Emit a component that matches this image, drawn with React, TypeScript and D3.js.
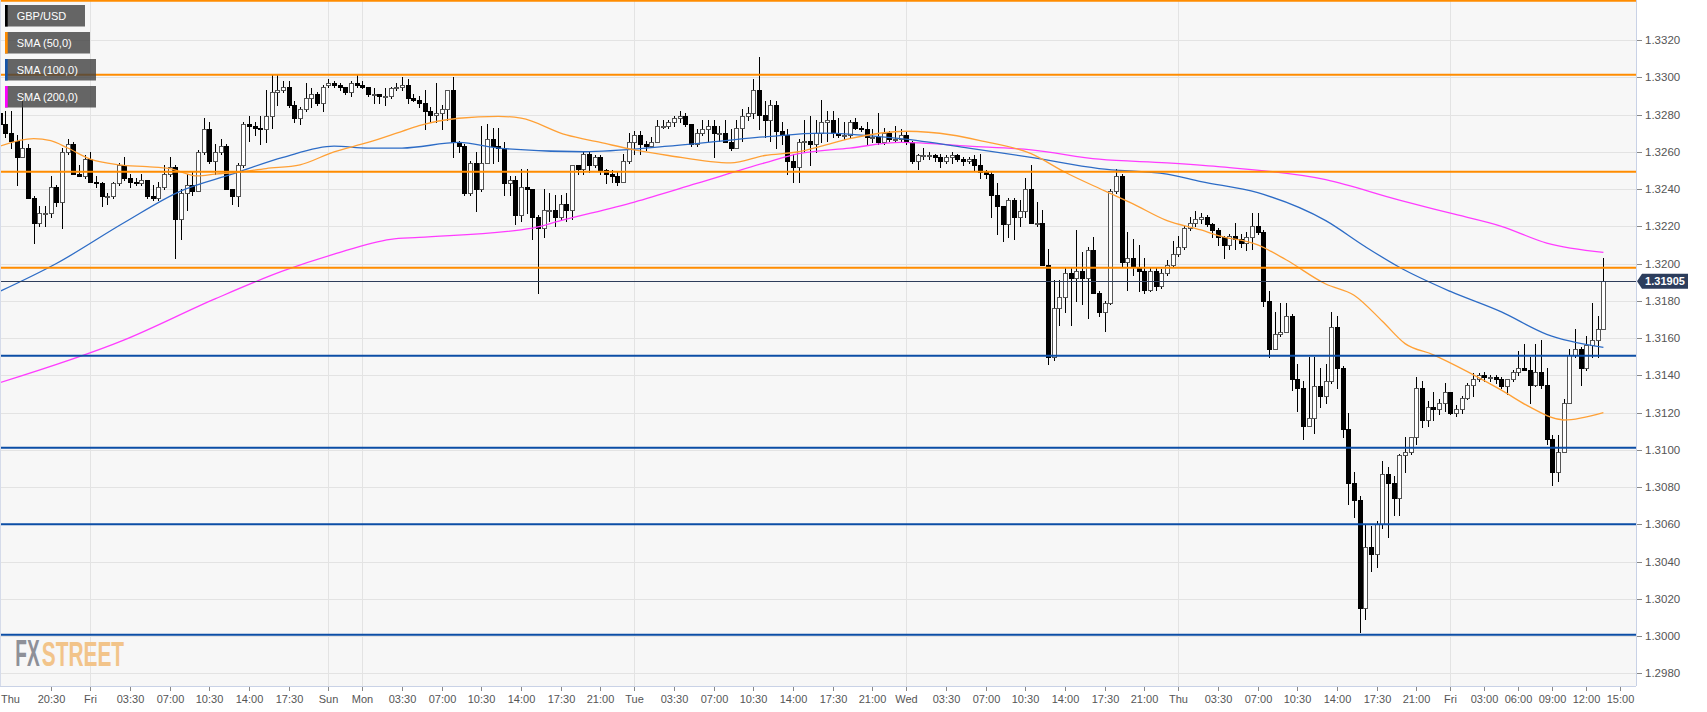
import React from "react";
import * as d3 from "d3";

// ---------- DATA (30-minute GBP/USD candles, bar index 0 = Thu 16:00) ----------
const OPEN = [
  1.3281,1.3275,1.3270,1.3266,1.3257,1.3262,1.3235,1.3222,1.3227,1.3227,
  1.3241,1.3233,1.3260,1.3264,1.3248,1.3247,1.3256,1.3244,1.3243,1.3236,
  1.3236,1.3243,1.3253,1.3246,1.3244,1.3243,1.3245,1.3236,1.3235,1.3241,
  1.3248,1.3252,1.3224,1.3238,1.3242,1.3239,1.3260,1.3272,1.3255,1.3260,
  1.3263,1.3240,1.3236,1.3253,1.3275,1.3274,1.3273,1.3272,1.3279,1.3292,
  1.3293,1.3295,1.3285,1.3278,1.3283,1.3289,1.3291,1.3286,1.3296,1.3297,
  1.3296,1.3295,1.3292,1.3297,1.3296,1.3295,1.3291,1.3291,1.3290,1.3290,
  1.3294,1.3295,1.3296,1.3289,1.3288,1.3286,1.3282,1.3280,1.3281,1.3283,
  1.3293,1.3265,1.3263,1.3238,1.3254,1.3240,1.3254,1.3267,1.3263,1.3262,
  1.3243,1.3245,1.3226,1.3241,1.3240,1.3225,1.3219,1.3229,1.3229,1.3225,
  1.3232,1.3229,1.3253,1.3251,1.3259,1.3253,1.3257,1.3250,1.3248,1.3247,
  1.3244,1.3255,1.3265,1.3269,1.3264,1.3263,1.3265,1.3274,1.3274,1.3276,
  1.3278,1.3279,1.3275,1.3264,1.3270,1.3272,1.3274,1.3270,1.3270,1.3265,
  1.3262,1.3273,1.3279,1.3281,1.3293,1.3280,1.3277,1.3285,1.3271,1.3269,
  1.3255,1.3252,1.3265,1.3266,1.3264,1.3270,1.3276,1.3277,1.3270,1.3269,
  1.3269,1.3276,1.3273,1.3272,1.3268,1.3268,1.3265,1.3270,1.3267,1.3267,
  1.3269,1.3265,1.3255,1.3258,1.3258,1.3258,1.3257,1.3255,1.3257,1.3258,
  1.3256,1.3255,1.3256,1.3253,1.3249,1.3248,1.3237,1.3231,1.3221,1.3234,
  1.3225,1.3228,1.3240,1.3222,1.3222,1.3199,1.3150,1.3176,1.3182,1.3195,
  1.3192,1.3196,1.3192,1.3207,1.3184,1.3174,1.3179,1.3239,1.3247,1.3201,
  1.3203,1.3198,1.3196,1.3186,1.3196,1.3188,1.3195,1.3199,1.3205,1.3209,
  1.3219,1.3222,1.3224,1.3225,1.3221,1.3218,1.3214,1.3210,1.3215,1.3213,
  1.3211,1.3214,1.3220,1.3217,1.3180,1.3154,1.3162,1.3163,1.3172,1.3138,
  1.3133,1.3113,1.3117,1.3134,1.3129,1.3137,1.3166,1.3144,1.3111,1.3082,
  1.3073,1.3015,1.3048,1.3044,1.3060,1.3087,1.3082,1.3074,1.3097,1.3099,
  1.3107,1.3133,1.3116,1.3123,1.3122,1.3125,1.3131,1.3120,1.3122,1.3128,
  1.3135,1.3138,1.3140,1.3139,1.3139,1.3138,1.3134,1.3138,1.3142,1.3144,
  1.3143,1.3135,1.3142,1.3135,1.3106,1.3088,1.3099,1.3125,1.3151,1.3154,
  1.3144,1.3156,1.3159,1.3165
];
const HIGH = [
  1.3290,1.3282,1.3282,1.3269,1.3290,1.3264,1.3236,1.3231,1.3231,1.3247,
  1.3242,1.3262,1.3267,1.3265,1.3253,1.3258,1.3260,1.3247,1.3244,1.3238,
  1.3244,1.3254,1.3257,1.3248,1.3246,1.3248,1.3245,1.3242,1.3244,1.3253,
  1.3257,1.3253,1.3240,1.3248,1.3249,1.3261,1.3278,1.3276,1.3264,1.3267,
  1.3264,1.3240,1.3254,1.3276,1.3279,1.3276,1.3279,1.3293,1.3301,1.3301,
  1.3298,1.3298,1.3287,1.3284,1.3297,1.3294,1.3292,1.3296,1.3299,1.3298,
  1.3297,1.3295,1.3298,1.3301,1.3298,1.3295,1.3294,1.3291,1.3294,1.3295,
  1.3297,1.3300,1.3299,1.3291,1.3290,1.3293,1.3284,1.3297,1.3285,1.3293,
  1.3300,1.3266,1.3264,1.3255,1.3260,1.3274,1.3275,1.3273,1.3273,1.3265,
  1.3247,1.3247,1.3251,1.3251,1.3240,1.3226,1.3240,1.3238,1.3237,1.3237,
  1.3238,1.3253,1.3253,1.3260,1.3260,1.3258,1.3258,1.3251,1.3250,1.3249,
  1.3259,1.3270,1.3271,1.3271,1.3266,1.3268,1.3277,1.3277,1.3277,1.3279,
  1.3282,1.3281,1.3275,1.3272,1.3277,1.3277,1.3277,1.3274,1.3277,1.3272,
  1.3277,1.3283,1.3284,1.3299,1.3311,1.3287,1.3288,1.3287,1.3276,1.3272,
  1.3259,1.3267,1.3277,1.3279,1.3277,1.3288,1.3282,1.3282,1.3278,1.3276,
  1.3277,1.3278,1.3274,1.3276,1.3272,1.3281,1.3273,1.3271,1.3274,1.3272,
  1.3271,1.3266,1.3259,1.3262,1.3260,1.3259,1.3259,1.3258,1.3260,1.3259,
  1.3257,1.3257,1.3258,1.3259,1.3250,1.3249,1.3243,1.3231,1.3235,1.3235,
  1.3234,1.3246,1.3253,1.3233,1.3229,1.3208,1.3191,1.3191,1.3198,1.3198,
  1.3218,1.3206,1.3209,1.3214,1.3185,1.3180,1.3240,1.3251,1.3248,1.3217,
  1.3213,1.3210,1.3203,1.3198,1.3198,1.3197,1.3202,1.3212,1.3215,1.3220,
  1.3225,1.3228,1.3227,1.3226,1.3222,1.3219,1.3215,1.3216,1.3222,1.3216,
  1.3217,1.3227,1.3227,1.3218,1.3185,1.3174,1.3179,1.3179,1.3173,1.3146,
  1.3137,1.3150,1.3150,1.3144,1.3146,1.3174,1.3172,1.3145,1.3120,1.3088,
  1.3075,1.3060,1.3059,1.3062,1.3094,1.3091,1.3086,1.3098,1.3107,1.3107,
  1.3139,1.3137,1.3126,1.3131,1.3127,1.3136,1.3131,1.3124,1.3129,1.3136,
  1.3141,1.3141,1.3142,1.3140,1.3140,1.3139,1.3138,1.3143,1.3153,1.3157,
  1.3150,1.3157,1.3159,1.3144,1.3108,1.3108,1.3127,1.3154,1.3165,1.3155,
  1.3161,1.3179,1.3172,1.3203
];
const LOW = [
  1.3274,1.3268,1.3262,1.3242,1.3257,1.3235,1.3211,1.3220,1.3220,1.3225,
  1.3231,1.3219,1.3259,1.3248,1.3247,1.3246,1.3244,1.3241,1.3231,1.3232,
  1.3235,1.3242,1.3245,1.3241,1.3242,1.3242,1.3235,1.3234,1.3234,1.3240,
  1.3247,1.3203,1.3213,1.3229,1.3237,1.3239,1.3259,1.3254,1.3248,1.3259,
  1.3240,1.3232,1.3231,1.3252,1.3266,1.3269,1.3264,1.3265,1.3273,1.3285,
  1.3292,1.3284,1.3276,1.3275,1.3282,1.3284,1.3285,1.3282,1.3295,1.3295,
  1.3293,1.3291,1.3290,1.3295,1.3294,1.3290,1.3286,1.3286,1.3285,1.3289,
  1.3293,1.3293,1.3286,1.3287,1.3284,1.3272,1.3276,1.3276,1.3272,1.3277,
  1.3257,1.3260,1.3237,1.3237,1.3228,1.3239,1.3254,1.3254,1.3255,1.3237,
  1.3237,1.3221,1.3223,1.3227,1.3213,1.3184,1.3214,1.3223,1.3220,1.3224,
  1.3223,1.3224,1.3248,1.3248,1.3249,1.3252,1.3248,1.3243,1.3244,1.3242,
  1.3244,1.3254,1.3259,1.3259,1.3261,1.3263,1.3265,1.3273,1.3273,1.3274,
  1.3276,1.3274,1.3263,1.3263,1.3269,1.3266,1.3257,1.3266,1.3265,1.3261,
  1.3262,1.3266,1.3277,1.3278,1.3272,1.3268,1.3266,1.3262,1.3264,1.3248,
  1.3244,1.3244,1.3260,1.3253,1.3260,1.3265,1.3266,1.3268,1.3268,1.3267,
  1.3268,1.3272,1.3271,1.3264,1.3265,1.3264,1.3264,1.3266,1.3266,1.3266,
  1.3264,1.3254,1.3251,1.3256,1.3256,1.3255,1.3252,1.3254,1.3254,1.3255,
  1.3253,1.3254,1.3250,1.3246,1.3246,1.3225,1.3216,1.3212,1.3214,1.3213,
  1.3220,1.3225,1.3222,1.3220,1.3199,1.3146,1.3148,1.3167,1.3174,1.3167,
  1.3180,1.3178,1.3171,1.3184,1.3172,1.3164,1.3178,1.3238,1.3198,1.3186,
  1.3194,1.3185,1.3184,1.3185,1.3186,1.3187,1.3194,1.3198,1.3204,1.3208,
  1.3218,1.3220,1.3222,1.3220,1.3214,1.3210,1.3203,1.3208,1.3208,1.3209,
  1.3207,1.3208,1.3216,1.3177,1.3150,1.3154,1.3161,1.3163,1.3132,1.3121,
  1.3106,1.3113,1.3109,1.3123,1.3125,1.3136,1.3133,1.3107,1.3071,1.3064,
  1.3002,1.3009,1.3035,1.3037,1.3058,1.3053,1.3065,1.3065,1.3088,1.3098,
  1.3103,1.3112,1.3113,1.3116,1.3119,1.3121,1.3119,1.3118,1.3120,1.3127,
  1.3129,1.3137,1.3137,1.3137,1.3136,1.3133,1.3130,1.3137,1.3140,1.3143,
  1.3125,1.3134,1.3133,1.3103,1.3081,1.3083,1.3099,1.3125,1.3150,1.3135,
  1.3143,1.3150,1.3150,1.3165
];
const CLOSE = [
  1.3275,1.3270,1.3266,1.3257,1.3262,1.3235,1.3222,1.3227,1.3227,1.3241,
  1.3233,1.3260,1.3264,1.3248,1.3247,1.3256,1.3244,1.3243,1.3236,1.3236,
  1.3243,1.3253,1.3246,1.3244,1.3243,1.3245,1.3236,1.3235,1.3241,1.3248,
  1.3252,1.3224,1.3238,1.3242,1.3239,1.3260,1.3272,1.3255,1.3260,1.3263,
  1.3240,1.3236,1.3253,1.3275,1.3274,1.3273,1.3272,1.3279,1.3292,1.3293,
  1.3295,1.3285,1.3278,1.3283,1.3289,1.3291,1.3286,1.3295,1.3297,1.3296,
  1.3295,1.3292,1.3297,1.3296,1.3295,1.3291,1.3291,1.3290,1.3290,1.3294,
  1.3295,1.3296,1.3289,1.3288,1.3286,1.3282,1.3280,1.3281,1.3283,1.3293,
  1.3265,1.3263,1.3238,1.3254,1.3240,1.3254,1.3267,1.3263,1.3262,1.3243,
  1.3245,1.3226,1.3241,1.3240,1.3225,1.3219,1.3229,1.3229,1.3225,1.3232,
  1.3229,1.3253,1.3251,1.3259,1.3253,1.3257,1.3250,1.3248,1.3247,1.3244,
  1.3255,1.3265,1.3269,1.3264,1.3263,1.3265,1.3274,1.3274,1.3276,1.3278,
  1.3279,1.3275,1.3264,1.3270,1.3272,1.3274,1.3270,1.3270,1.3265,1.3262,
  1.3273,1.3279,1.3281,1.3293,1.3280,1.3277,1.3285,1.3271,1.3269,1.3255,
  1.3252,1.3265,1.3266,1.3264,1.3270,1.3276,1.3277,1.3270,1.3269,1.3269,
  1.3276,1.3273,1.3272,1.3268,1.3268,1.3265,1.3270,1.3267,1.3267,1.3269,
  1.3265,1.3255,1.3258,1.3258,1.3258,1.3257,1.3255,1.3257,1.3258,1.3256,
  1.3255,1.3256,1.3253,1.3249,1.3248,1.3237,1.3231,1.3221,1.3234,1.3225,
  1.3228,1.3240,1.3222,1.3222,1.3199,1.3150,1.3176,1.3182,1.3195,1.3192,
  1.3196,1.3192,1.3207,1.3184,1.3174,1.3179,1.3239,1.3247,1.3201,1.3203,
  1.3198,1.3196,1.3186,1.3196,1.3188,1.3195,1.3199,1.3205,1.3209,1.3219,
  1.3222,1.3224,1.3225,1.3221,1.3218,1.3214,1.3210,1.3215,1.3213,1.3211,
  1.3214,1.3220,1.3217,1.3180,1.3154,1.3162,1.3163,1.3172,1.3138,1.3133,
  1.3113,1.3117,1.3134,1.3129,1.3137,1.3166,1.3144,1.3111,1.3082,1.3073,
  1.3015,1.3048,1.3044,1.3060,1.3087,1.3082,1.3074,1.3097,1.3099,1.3107,
  1.3133,1.3116,1.3123,1.3122,1.3125,1.3131,1.3120,1.3122,1.3128,1.3135,
  1.3138,1.3140,1.3139,1.3139,1.3138,1.3134,1.3138,1.3142,1.3144,1.3143,
  1.3135,1.3142,1.3135,1.3106,1.3088,1.3099,1.3125,1.3151,1.3154,1.3144,
  1.3156,1.3159,1.3165,1.31905
];

// Moving averages (bar index, value)
const SMA50_BARS = [0,6,9,12,16,21,26,30,35,38,42,47,53,59,65,71,74,81,88,92,100,106,112,118,129,135,141,145,150,160,168,173,182,188,195,200,206,212,215,222,227,234,239,244,248,253,259,265,270,276,283];
const SMA50_VALUES = [1.3263,1.3267,1.3266,1.3262,1.3256,1.3253,1.3252,1.3251,1.3247,1.3248,1.3249,1.3251,1.3253,1.3260,1.3265,1.3271,1.3274,1.3278,1.3279,1.3278,1.3269,1.3265,1.3261,1.3258,1.3254,1.3258,1.3260,1.3263,1.3267,1.3271,1.3269,1.3266,1.3259,1.3249,1.3239,1.3232,1.3223,1.3218,1.3215,1.3210,1.3202,1.3189,1.3183,1.3169,1.3157,1.3151,1.3142,1.3132,1.3123,1.3116,1.3120];
const SMA100_BARS = [0,10,22,32,41,50,59,65,71,81,88,103,118,135,145,159,171,182,194,206,212,222,234,241,247,256,265,273,283];
const SMA100_VALUES = [1.3185,1.3200,1.3222,1.3239,1.3248,1.3257,1.3263,1.3262,1.3262,1.3265,1.3262,1.3260,1.3263,1.3268,1.3270,1.3267,1.3262,1.3257,1.3251,1.3248,1.3244,1.3238,1.3223,1.3209,1.3198,1.3185,1.3174,1.3162,1.3155];
const SMA200_BARS = [0,22,38,50,59,69,74,94,99,112,123,135,141,150,159,171,182,194,206,215,234,247,256,265,273,283];
const SMA200_VALUES = [1.3136,1.3159,1.3181,1.3196,1.3205,1.3213,1.3214,1.3219,1.3223,1.3233,1.3243,1.3254,1.3259,1.3262,1.3265,1.3263,1.3261,1.3256,1.3254,1.3252,1.3245,1.3234,1.3227,1.3220,1.3211,1.3206];

const ORANGE_LEVELS = [1.33411, 1.33014, 1.32493, 1.31977];
const BLUE_LEVELS = [1.31505, 1.31011, 1.30600, 1.30007];
const LAST_PRICE = 1.31905;

const Y_TICKS = [1.2980,1.3000,1.3020,1.3040,1.3060,1.3080,1.3100,1.3120,1.3140,1.3160,1.3180,1.3200,1.3220,1.3240,1.3260,1.3280,1.3300,1.3320];
const X_TICK_LABELS = ["20:30","Fri","03:30","07:00","10:30","14:00","17:30","Sun","Mon","03:30","07:00","10:30","14:00","17:30","21:00","Tue","03:30","07:00","10:30","14:00","17:30","21:00","Wed","03:30","07:00","10:30","14:00","17:30","21:00","Thu","03:30","07:00","10:30","14:00","17:30","21:00","Fri","03:00","06:00","09:00","12:00","15:00"];
const X_TICK_BARS = [9,16,23,30,37,44,51,58,64,71,78,85,92,99,106,112,119,126,133,140,147,154,160,167,174,181,188,195,202,208,215,222,229,236,243,250,256,262,268,274,280,286];
const DAY_BARS = [16,58,64,112,160,208,256];
const FIRST_LABEL = "Thu";

const LEGEND_LABELS = ["GBP/USD", "SMA (50,0)", "SMA (100,0)", "SMA (200,0)"];
const LEGEND_COLORS = ["#000000", "#ff8c00", "#1454a8", "#ff00ff"];

// ---------- LAYOUT ----------
const W = 1707;
const H = 712;
const PLOT_R = 1636;
const PLOT_B = 686;
const FONT = "'Liberation Sans', Arial, Helvetica, sans-serif";

export default function App() {
  const x = d3.scaleLinear().domain([0, 283]).range([-0.3, 1603.4]);
  const y = d3.scaleLinear().domain([1.298, 1.332]).range([673.3, 40]);
  const crisp = (v: number) => Math.round(v) + 0.5;

  const smaPath = (bars: number[], vals: number[]) =>
    d3
      .line<number>()
      .x((_, k) => x(bars[k]))
      .y((v) => y(v))
      .curve(d3.curveMonotoneX)(vals) || "";

  const legendWidths = [80, 85, 91, 91];

  return (
    <svg
      width={W}
      height={H}
      viewBox={`0 0 ${W} ${H}`}
      style={{ position: "absolute", left: 0, top: 0, display: "block", background: "#ffffff" }}
    >
      {/* plot background */}
      <rect x={0} y={0} width={PLOT_R} height={PLOT_B} fill="#f7f7f7" />

      {/* horizontal grid */}
      {Y_TICKS.map((t) => (
        <line key={"hg" + t} x1={0} x2={PLOT_R} y1={crisp(y(t))} y2={crisp(y(t))} stroke="#e3e3e3" strokeWidth={1} />
      ))}
      {/* vertical day grid */}
      {DAY_BARS.map((b) => (
        <line key={"vg" + b} x1={crisp(x(b))} x2={crisp(x(b))} y1={0} y2={PLOT_B} stroke="#e3e3e3" strokeWidth={1} />
      ))}

      {/* logo watermark (condensed via horizontal scaling) */}
      <g transform="translate(15.3,666) scale(0.53,1)">
        <text x={0} y={0} fontFamily={FONT} fontWeight="bold" fontSize={36} fill="#8e9098">
          FX
        </text>
      </g>
      <g transform="translate(41.8,666) scale(0.58,1)">
        <text x={0} y={0} fontFamily={FONT} fontWeight="bold" fontSize={36} fill="#f2c48a">
          STREET
        </text>
      </g>

      {/* candles */}
      {CLOSE.map((c, i) => {
        const o = OPEN[i];
        const cx = Math.round(x(i));
        const up = c >= o;
        const top = Math.round(y(Math.max(o, c)));
        const bot = Math.round(y(Math.min(o, c)));
        const h = Math.max(1, bot - top);
        return (
          <g key={"c" + i}>
            <line x1={cx + 0.5} x2={cx + 0.5} y1={Math.round(y(HIGH[i]))} y2={Math.round(y(LOW[i])) + 1} stroke="#000" strokeWidth={1} />
            <rect
              x={cx - 1.5}
              y={top + 0.5}
              width={4}
              height={h}
              fill={up ? "#ffffff" : "#000000"}
              stroke={up ? "#555555" : "#000000"}
              strokeWidth={1}
            />
          </g>
        );
      })}

      {/* moving averages */}
      <path d={smaPath(SMA200_BARS, SMA200_VALUES)} fill="none" stroke="#ff3cff" strokeWidth={1.3} />
      <path d={smaPath(SMA100_BARS, SMA100_VALUES)} fill="none" stroke="#2d6cc6" strokeWidth={1.3} />
      <path d={smaPath(SMA50_BARS, SMA50_VALUES)} fill="none" stroke="#ffa035" strokeWidth={1.3} />

      {/* horizontal levels */}
      {ORANGE_LEVELS.map((v) => (
        <line key={"ol" + v} x1={0} x2={PLOT_R} y1={y(v)} y2={y(v)} stroke="#ff8c00" strokeWidth={2} />
      ))}
      {BLUE_LEVELS.map((v) => (
        <line key={"bl" + v} x1={0} x2={PLOT_R} y1={y(v)} y2={y(v)} stroke="#0c4ea6" strokeWidth={2} />
      ))}
      <line x1={0} x2={PLOT_R} y1={crisp(y(LAST_PRICE))} y2={crisp(y(LAST_PRICE))} stroke="#2f3e5c" strokeWidth={1} />

      {/* axes lines */}
      <line x1={PLOT_R + 0.5} x2={PLOT_R + 0.5} y1={0} y2={PLOT_B} stroke="#c9d2e6" strokeWidth={1} />
      <line x1={0} x2={PLOT_R} y1={PLOT_B + 0.5} y2={PLOT_B + 0.5} stroke="#c9d2e6" strokeWidth={1} />
      <line x1={0.5} x2={0.5} y1={0} y2={PLOT_B} stroke="#d5dbea" strokeWidth={1} />

      {/* y axis ticks & labels */}
      {Y_TICKS.map((t) => (
        <g key={"yt" + t}>
          <line x1={PLOT_R + 1} x2={PLOT_R + 6} y1={crisp(y(t))} y2={crisp(y(t))} stroke="#888" strokeWidth={1} />
          <text x={1645} y={y(t)} dy="0.35em" fontFamily={FONT} fontSize={11.5} fill="#555">
            {t.toFixed(4)}
          </text>
        </g>
      ))}

      {/* last price tag */}
      <path
        d={`M${PLOT_R + 1},${y(LAST_PRICE)} L${PLOT_R + 6},${y(LAST_PRICE) - 7.5} H1688 V${y(LAST_PRICE) + 7.5} H${PLOT_R + 6} Z`}
        fill="#2c3d5c"
      />
      <text x={1665} y={y(LAST_PRICE)} dy="0.36em" textAnchor="middle" fontFamily={FONT} fontWeight="bold" fontSize={11} fill="#ffffff">
        {LAST_PRICE.toFixed(5)}
      </text>

      {/* x axis ticks & labels */}
      <text x={1} y={703} fontFamily={FONT} fontSize={11} fill="#555">
        {FIRST_LABEL}
      </text>
      {X_TICK_LABELS.map((lab, k) => {
        const tx = crisp(x(X_TICK_BARS[k]));
        return (
          <g key={"xt" + k}>
            <line x1={tx} x2={tx} y1={PLOT_B + 1} y2={PLOT_B + 5} stroke="#888" strokeWidth={1} />
            <text x={tx} y={703} textAnchor="middle" fontFamily={FONT} fontSize={11} fill="#555">
              {lab}
            </text>
          </g>
        );
      })}

      {/* legend */}
      {LEGEND_LABELS.map((lab, k) => {
        const by = 5 + k * 27;
        return (
          <g key={"lg" + k}>
            <rect x={5} y={by} width={legendWidths[k]} height={21.5} fill="rgba(64,64,64,0.8)" />
            <rect x={5} y={by} width={2.7} height={21.5} fill={LEGEND_COLORS[k]} />
            <text x={16.7} y={by + 10.75} dy="0.36em" fontFamily={FONT} fontSize={11} fill="#ffffff">
              {lab}
            </text>
          </g>
        );
      })}
    </svg>
  );
}
